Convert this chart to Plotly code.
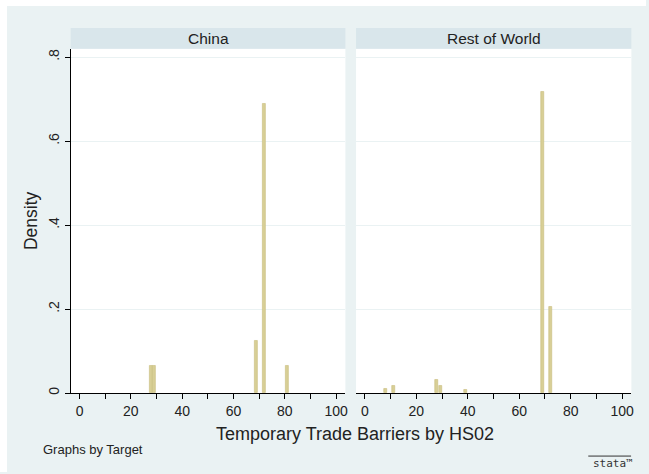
import plotly.graph_objects as go

# Histogram bins (bin centre, density) for each panel
china_bins = [28.0, 29.2, 68.9, 71.95, 80.85]
china_density = [0.064, 0.064, 0.125, 0.689, 0.064]

row_bins = [8.1, 11.1, 28.0, 29.3, 39.2, 69.1, 72.3]
row_density = [0.009, 0.017, 0.032, 0.017, 0.008, 0.717, 0.205]

panel_titles = ["China", "Rest of World"]
x_ticks = list(range(0, 101, 10))
x_ticktext = [str(v) if v % 20 == 0 else "" for v in x_ticks]
y_ticks = [0, 0.2, 0.4, 0.6, 0.8]
y_ticktext = ["0", ".2", ".4", ".6", ".8"]

BAR_FILL = "#d8cf96"
BAR_LINE = "#c9bd7e"
BG = "#eaf2f3"
STRIP = "#d9e6eb"
FONT = "Arial, Liberation Sans, sans-serif"

W, H = 649, 474

def px_x(p):
    return p / W

def px_y(p):
    return 1 - p / H

left_dom = [px_x(71), px_x(347)]
right_dom = [px_x(357.7), px_x(634.3)]
y_dom = [px_y(394.7), px_y(49)]

fig = go.Figure()
fig.add_trace(go.Bar(x=china_bins, y=china_density, width=1.25,
                     marker=dict(color=BAR_FILL, line=dict(color=BAR_LINE, width=0.6)),
                     xaxis="x", yaxis="y", showlegend=False))
fig.add_trace(go.Bar(x=row_bins, y=row_density, width=1.25,
                     marker=dict(color=BAR_FILL, line=dict(color=BAR_LINE, width=0.6)),
                     xaxis="x2", yaxis="y2", showlegend=False))

xcommon = dict(range=[-3.45, 103.6], tickmode="array", tickvals=x_ticks, ticktext=x_ticktext,
               ticks="outside", ticklen=5, tickcolor="black", tickwidth=1,
               showline=True, linecolor="black", linewidth=1, showgrid=False, zeroline=False,
               tickfont=dict(family=FONT, size=14, color="#222"), fixedrange=True)
ycommon = dict(range=[0, 0.8197], domain=y_dom, tickmode="array", tickvals=y_ticks,
               showgrid=True, gridcolor=BG, gridwidth=1, zeroline=False, fixedrange=True)

fig.update_layout(
    width=W, height=H, margin=dict(l=0, r=0, t=0, b=0),
    paper_bgcolor=BG, plot_bgcolor="white", bargap=0,
    font=dict(family=FONT, color="#222"),
    xaxis=dict(domain=left_dom, anchor="y", **xcommon),
    xaxis2=dict(domain=right_dom, anchor="y2", **xcommon),
    yaxis=dict(anchor="x", ticktext=y_ticktext, ticks="outside", ticklen=5, tickcolor="black",
               showline=True, linecolor="black", linewidth=1, tickangle=-90,
               tickfont=dict(family=FONT, size=14, color="#222"),
               title=dict(text="Density", font=dict(family=FONT, size=17.5, color="#222"), standoff=3),
               **ycommon),
    yaxis2=dict(anchor="x2", showticklabels=False, ticks="", showline=False, **ycommon),
)

shapes = [
    # white margin around the graph region
    dict(type="rect", xref="paper", yref="paper", x0=0, x1=1, y0=px_y(6), y1=1,
         fillcolor="white", line=dict(width=0), layer="below"),
    dict(type="rect", xref="paper", yref="paper", x0=0, x1=px_x(7), y0=0, y1=1,
         fillcolor="white", line=dict(width=0), layer="below"),
]
for dom in (left_dom, right_dom):
    shapes.append(dict(type="rect", xref="paper", yref="paper", x0=dom[0], x1=dom[1],
                       y0=px_y(49), y1=px_y(28), fillcolor=STRIP, line=dict(width=0)))
# logo overline
shapes.append(dict(type="line", xref="paper", yref="paper", x0=px_x(591), x1=px_x(634),
                   y0=px_y(458), y1=px_y(458), line=dict(color="#333", width=1)))
fig.update_layout(shapes=shapes)

annotations = []
for dom, title in zip((left_dom, right_dom), panel_titles):
    annotations.append(dict(text=title, xref="paper", yref="paper", x=(dom[0] + dom[1]) / 2,
                            y=px_y(38.5), showarrow=False, xanchor="center", yanchor="middle",
                            font=dict(family=FONT, size=15.5, color="#222")))
annotations.append(dict(text="Temporary Trade Barriers by HS02", xref="paper", yref="paper",
                        x=px_x(357), y=px_y(436), showarrow=False, xanchor="center",
                        yanchor="middle", font=dict(family=FONT, size=18, color="#222")))
annotations.append(dict(text="Graphs by Target", xref="paper", yref="paper",
                        x=px_x(41), y=px_y(451), showarrow=False, xanchor="left",
                        yanchor="middle", font=dict(family=FONT, size=13, color="#222")))
annotations.append(dict(text="stata\u2122", xref="paper", yref="paper",
                        x=px_x(616), y=px_y(465), showarrow=False, xanchor="center",
                        yanchor="middle", font=dict(family="DejaVu Sans Mono, monospace", size=11, color="#333")))
fig.update_layout(annotations=annotations)

fig.write_html("out.html")
